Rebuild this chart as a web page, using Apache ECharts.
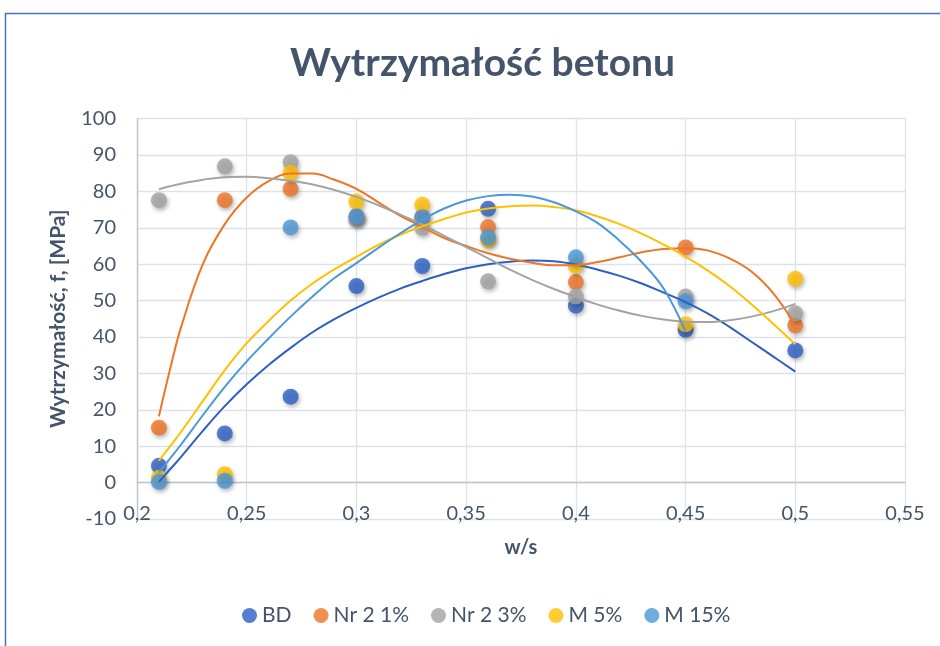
<!DOCTYPE html>
<html>
<head>
<meta charset="utf-8">
<title>Wytrzymałość betonu</title>
<script src="https://cdn.jsdelivr.net/npm/echarts@6/dist/echarts.min.js"></script>
<style>
  html, body { margin: 0; padding: 0; background: #ffffff; }
  #chart { width: 940px; height: 646px; }
</style>
</head>
<body>
<div id="chart"></div>
<script>
// w/s ratios of the measured mixes
const wsValues = [0.21, 0.24, 0.27, 0.30, 0.33, 0.36, 0.40, 0.45, 0.50];

// measured strength f [MPa] for each mix
const bdPoints   = [4.6, 13.5, 23.6, 54.0, 59.5, 75.2, 48.6, 42.0, 36.3];
const nr21Points = [15.1, 77.6, 80.7, 73.1, 72.9, 70.2, 55.1, 64.6, 43.2];
const nr23Points = [77.6, 86.9, 88.0, 72.3, 70.0, 55.3, 51.1, 51.1, 46.5];
const m5Points   = [1.3, 2.3, 85.1, 77.2, 76.3, 66.7, 59.6, 43.5, 56.0];
const m15Points  = [0.2, 0.5, 70.1, 73.1, 72.9, 67.4, 61.9, 49.8, null];

// polynomial trend curves, sampled along w/s
const trendX = [0.21, 0.215, 0.22, 0.23, 0.24, 0.25, 0.26, 0.27, 0.28, 0.29, 0.30,
                0.31, 0.32, 0.33, 0.34, 0.35, 0.36, 0.37, 0.38, 0.39, 0.40,
                0.41, 0.42, 0.43, 0.44, 0.45, 0.46, 0.47, 0.48, 0.49, 0.50];
const bdTrend   = [0.2, 3.6, 7.0, 14.2, 21.0, 27.0, 32.3, 37.0, 41.3, 44.9, 48.0,
                   50.8, 53.3, 55.4, 57.3, 58.9, 60.0, 60.7, 61.0, 60.8, 59.9,
                   58.5, 56.8, 54.7, 52.2, 49.6, 46.5, 42.8, 38.7, 34.6, 30.5];
const nr21Trend = [18.2, 31.0, 42.5, 60.0, 71.0, 78.3, 82.8, 84.9, 84.9, 83.2, 80.7,
                   77.0, 73.3, 70.3, 67.2, 65.0, 63.0, 61.5, 60.4, 59.7, 59.7,
                   60.6, 61.9, 63.3, 64.2, 64.4, 63.8, 61.6, 58.0, 52.0, 43.3];
const nr23Trend = [80.6, 81.4, 82.1, 83.2, 83.9, 84.0, 83.6, 82.9, 81.9, 80.4, 78.5,
                   76.2, 73.6, 70.9, 67.8, 64.7, 61.6, 58.5, 55.7, 53.2, 51.0,
                   48.9, 47.2, 45.8, 44.8, 44.2, 44.1, 44.6, 45.6, 47.1, 49.1];
const m5Trend   = [6.0, 9.9, 13.9, 22.4, 30.9, 38.3, 44.4, 50.0, 54.7, 58.6, 62.0,
                   65.3, 68.1, 70.4, 72.4, 74.2, 75.3, 75.9, 76.1, 75.7, 74.8,
                   73.1, 71.0, 68.4, 65.4, 62.1, 58.3, 54.0, 49.0, 43.6, 38.0];
const m15Trend  = [2.8, 6.6, 10.4, 18.5, 26.3, 33.3, 39.6, 45.6, 51.1, 56.2, 60.3,
                   64.5, 68.5, 72.2, 75.3, 77.5, 78.7, 79.1, 78.6, 77.0, 74.5,
                   71.3, 66.4, 60.6, 53.3, 41.5, null, null, null, null, null];

const seriesNames = ['BD', 'Nr 2 1%', 'Nr 2 3%', 'M 5%', 'M 15%'];
const seriesColors = ['#2D5FC4', '#EF7426', '#A3A3A3', '#FFC000', '#4B98DA'];
const pointSets = [bdPoints, nr21Points, nr23Points, m5Points, m15Points];
const trendSets = [bdTrend, nr21Trend, nr23Trend, m5Trend, m15Trend];

const FONT = 'Lato';
const TEXT = '#44546A';
const GRID_LINE = '#DDE2E9';

const pairs = (xs, ys) => xs.map((x, i) => [x, ys[i]]).filter(p => p[1] !== null);

const scatterSeries = seriesNames.map((name, i) => ({
  name: name,
  type: 'scatter',
  symbol: 'circle',
  symbolSize: 16,
  z: 3,
  itemStyle: {
    color: seriesColors[i],
    shadowBlur: 4,
    shadowOffsetX: 1.5,
    shadowOffsetY: 2.5,
    shadowColor: 'rgba(0,0,0,0.35)'
  },
  data: pairs(wsValues, pointSets[i])
}));

const trendSeries = seriesNames.map((name, i) => ({
  name: name + ' – trend',
  type: 'line',
  smooth: 0.4,
  showSymbol: false,
  z: 4,
  silent: true,
  lineStyle: { color: seriesColors[i], width: 2 },
  data: pairs(trendX, trendSets[i])
}));

const chart = echarts.init(document.getElementById('chart'), null, { renderer: 'canvas' });

chart.setOption({
  animation: false,
  backgroundColor: '#ffffff',
  textStyle: { fontFamily: FONT },
  title: {
    text: 'Wytrzymałość betonu',
    left: 290,
    top: 44,
    padding: 0,
    textStyle: { fontFamily: FONT, fontSize: 39, fontWeight: 'bold', color: TEXT }
  },
  graphic: [{
    type: 'rect',
    silent: true,
    z: -10,
    shape: { x: 5.5, y: 13.5, width: 1000, height: 1000 },
    style: { fill: 'none', stroke: '#4472C4', lineWidth: 1.5 }
  }],
  legend: {
    data: seriesNames,
    left: 242,
    top: 605,
    padding: 0,
    icon: 'circle',
    itemWidth: 15,
    itemHeight: 15,
    itemGap: 22,
    textStyle: { fontFamily: FONT, fontSize: 21, color: TEXT }
  },
  grid: { left: 137, right: 35, top: 118.6, bottom: 127 },
  xAxis: {
    type: 'value',
    min: 0.2,
    max: 0.55,
    interval: 0.05,
    name: 'w/s',
    nameLocation: 'middle',
    nameGap: 19,
    nameTextStyle: { fontFamily: FONT, fontSize: 20, fontWeight: 'bold', color: TEXT },
    axisLine: { show: true, onZero: true, lineStyle: { color: '#BCC4D0', width: 1.3 } },
    axisTick: { show: false },
    axisLabel: {
      margin: -15,
      fontSize: 20,
      color: TEXT,
      fontFamily: FONT,
      formatter: v => String(+v.toFixed(2)).replace('.', ',')
    },
    splitLine: { show: true, lineStyle: { color: GRID_LINE, width: 1.3 } }
  },
  yAxis: {
    type: 'value',
    min: -10,
    max: 100,
    interval: 10,
    name: 'Wytrzymałość, f, [MPa]',
    nameLocation: 'middle',
    nameRotate: 90,
    nameGap: 68,
    nameTextStyle: { fontFamily: FONT, fontSize: 21, fontWeight: 'bold', color: TEXT },
    axisLine: { show: true, lineStyle: { color: '#BCC4D0', width: 1.3 } },
    axisTick: { show: false },
    axisLabel: { margin: 21, fontSize: 20, color: TEXT, fontFamily: FONT },
    splitLine: { show: true, lineStyle: { color: GRID_LINE, width: 1.3 } }
  },
  series: scatterSeries.concat(trendSeries)
});
</script>
</body>
</html>
